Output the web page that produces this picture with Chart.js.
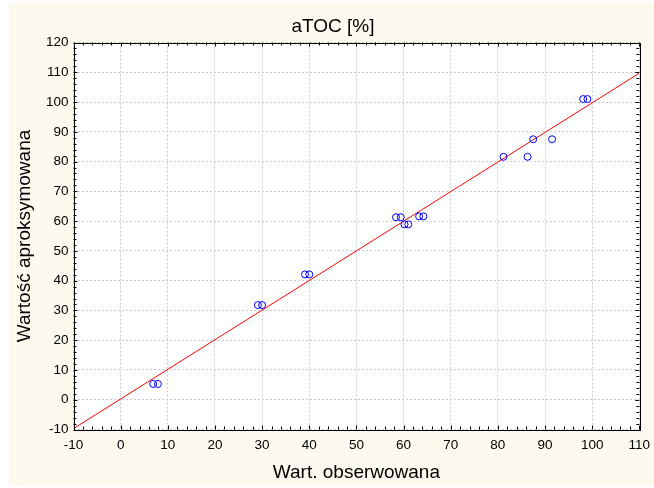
<!DOCTYPE html>
<html>
<head>
<meta charset="utf-8">
<title>aTOC</title>
<script src="https://cdn.jsdelivr.net/npm/chart.js@4.4.0/dist/chart.umd.min.js"></script>
<style>
  html, body { margin: 0; padding: 0; background: #ffffff; }
  #wrap { width: 654px; height: 488px; position: relative; }
</style>
</head>
<body>
<div id="wrap"><canvas id="chart_canvas" width="654" height="488"></canvas></div>
<script>
var observed = [6.9, 7.9, 29.1, 30.0, 39.1, 40.0, 58.4, 59.4, 60.2, 61.0, 63.3, 64.2, 81.2, 86.3, 87.5, 91.5, 98.1, 99.0];
var predicted = [5.3, 5.3, 31.8, 31.8, 42.1, 42.1, 61.3, 61.3, 58.9, 58.9, 61.6, 61.6, 81.6, 81.6, 87.5, 87.5, 101.0, 101.0];
// fitted line end points
var fitX = [-10, 110];
var fitY = [-9.7, 109.7];

var chartTitle = 'aTOC [%]';
var xTitle = 'Wart. obserwowana';
var yTitle = 'Wartość aproksymowana';

var fontFamily = '"Liberation Sans", Arial, sans-serif';

var points = [];
for (var i = 0; i < observed.length; i++) {
    points.push({ x: observed[i], y: predicted[i] });
}
var linePoints = [];
for (var j = 0; j < fitX.length; j++) {
    linePoints.push({ x: fitX[j], y: fitY[j] });
}

// cream background, white plot area, frame, minor ticks, title
var framePlugin = {
    id: 'frame',
    beforeDraw: function (chart) {
        var ctx = chart.ctx;
        var a = chart.chartArea;
        ctx.save();
        ctx.fillStyle = '#fdf9ee';
        ctx.fillRect(9, 3, chart.width - 9, 483);
        ctx.fillStyle = '#ffffff';
        ctx.fillRect(a.left, a.top, a.right - a.left, a.bottom - a.top);
        ctx.restore();
    },
    afterDraw: function (chart) {
        var ctx = chart.ctx;
        var a = chart.chartArea;
        var xs = chart.scales.x;
        var ys = chart.scales.y;
        ctx.save();
        ctx.strokeStyle = '#000000';
        ctx.lineWidth = 1;
        ctx.beginPath();
        for (var v = -10; v <= 110; v += 2) {
            var px = Math.round(xs.getPixelForValue(v)) + 0.5;
            var len = (v % 10 == 0) ? 4 : 3;
            ctx.moveTo(px, a.top);
            ctx.lineTo(px, a.top + len);
            ctx.moveTo(px, a.bottom);
            ctx.lineTo(px, a.bottom - len);
        }
        for (var w = -10; w <= 120; w += 2) {
            var py = Math.round(ys.getPixelForValue(w)) + 0.5;
            var len2 = (w % 10 == 0) ? 4 : 3;
            ctx.moveTo(a.left, py);
            ctx.lineTo(a.left + len2, py);
            ctx.moveTo(a.right, py);
            ctx.lineTo(a.right - len2, py);
        }
        ctx.stroke();
        ctx.strokeRect(Math.round(a.left) + 0.5, Math.round(a.top) + 0.5,
            Math.round(a.right - a.left), Math.round(a.bottom - a.top));
        ctx.fillStyle = '#000000';
        ctx.font = '19px ' + fontFamily;
        ctx.textAlign = 'center';
        ctx.textBaseline = 'alphabetic';
        ctx.fillText(chartTitle, 333, 32);
        ctx.restore();
    }
};

var gridStyle = {
    color: '#cccccc',
    lineWidth: 1,
    drawTicks: false
};

var myChart = new Chart('chart_canvas', {
    type: 'scatter',
    data: {
        datasets: [{
                type: 'line',
                data: linePoints,
                borderColor: '#ff0000',
                borderWidth: 1,
                pointRadius: 0,
                fill: false,
                order: 2
            }, {
                data: points,
                showLine: false,
                pointStyle: 'circle',
                pointRadius: 3.5,
                borderWidth: 1,
                borderColor: '#0000ff',
                backgroundColor: 'rgba(0,0,0,0)',
                order: 1
            }]
    },
    options: {
        responsive: false,
        animation: false,
        layout: {
            padding: { left: 0, top: 42.5, right: 14.7, bottom: 0 }
        },
        plugins: {
            legend: { display: false },
            tooltip: { enabled: false }
        },
        scales: {
            x: {
                type: 'linear',
                min: -10,
                max: 110,
                border: { display: false, dash: [2, 2] },
                grid: gridStyle,
                ticks: {
                    stepSize: 10,
                    padding: 8,
                    color: '#000000',
                    font: { family: fontFamily, size: 13.5 }
                },
                title: {
                    display: true,
                    text: xTitle,
                    color: '#000000',
                    font: { family: fontFamily, size: 19 },
                    padding: { top: 0, bottom: 4 }
                },
                afterFit: function (scale) {
                    scale.height = 58.5;
                    scale.paddingLeft = 0;
                    scale.paddingRight = 0;
                }
            },
            y: {
                type: 'linear',
                min: -10,
                max: 120,
                border: { display: false, dash: [2, 2] },
                grid: gridStyle,
                ticks: {
                    stepSize: 10,
                    padding: 5,
                    color: '#000000',
                    font: { family: fontFamily, size: 13.5 }
                },
                title: {
                    display: true,
                    text: yTitle,
                    color: '#000000',
                    font: { family: fontFamily, size: 19 },
                    padding: { top: 13, bottom: 0 }
                },
                afterFit: function (scale) {
                    scale.width = 73.5;
                    scale.paddingTop = 0;
                    scale.paddingBottom = 0;
                }
            }
        }
    },
    plugins: [framePlugin]
});
</script>
</body>
</html>
